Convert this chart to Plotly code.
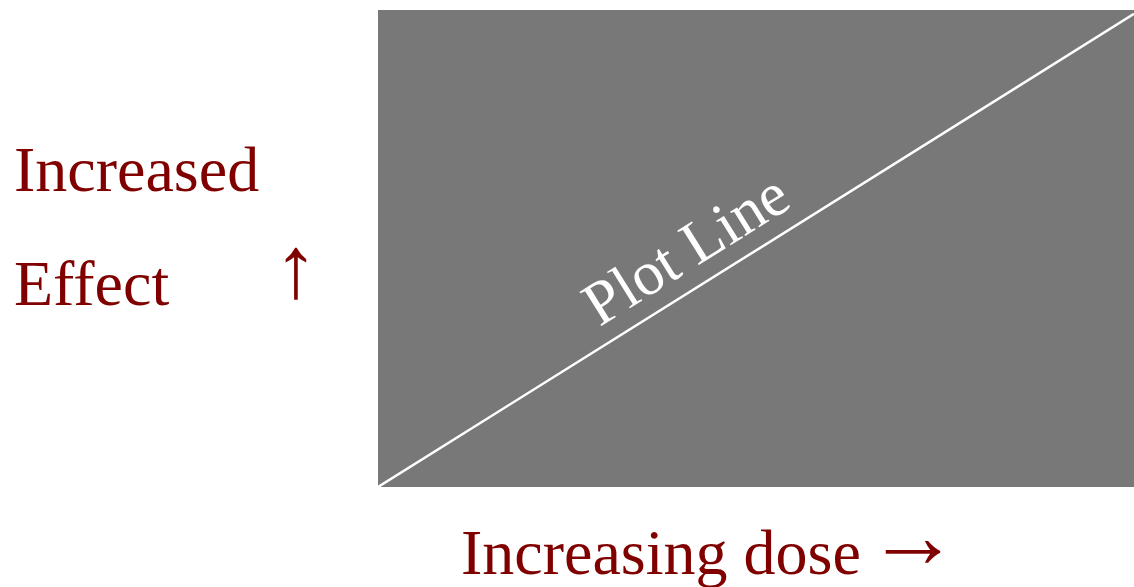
import plotly.graph_objects as go

# Data
dose = [0, 100]
effect = [0, 99.2]
line_label = "Plot Line"
x_label = "Increasing dose"
x_arrow = "\u2192"
y_label_lines = ["Increased", "Effect"]
y_arrow = "\u2191"

RED = "#800000"
FONT = "Liberation Serif"

fig = go.Figure()
fig.add_trace(go.Scatter(x=dose, y=effect, mode="lines",
                         line=dict(color="white", width=2.5),
                         hoverinfo="skip", showlegend=False))

W, H = 1134, 587
L, T = 378, 10
B = H - 487
R = 0
pw, ph = W - L - R, H - T - B

def px(x):
    return (x - L) / pw

def py(y):
    return (H - B - y) / ph

annotations = []
def add(text, x, y, xanchor="left", size=64, family=FONT, color=RED, angle=0):
    annotations.append(dict(text=text, x=px(x), y=py(y), xref="paper", yref="paper",
                            xanchor=xanchor, yanchor="middle", showarrow=False,
                            textangle=angle,
                            font=dict(family=family, size=size, color=color)))

add(y_label_lines[0], 12, 169)
add(y_label_lines[1], 12, 283)
add(y_arrow, 296, 267, xanchor="center", size=88)
add(x_label, 459, 552)
add(x_arrow, 865, 536, size=92)
add(line_label, 685, 249, xanchor="center", size=62, color="white", angle=-32)

fig.update_layout(
    width=W, height=H,
    margin=dict(l=L, r=R, t=T, b=B),
    paper_bgcolor="white",
    plot_bgcolor="#787878",
    xaxis=dict(range=[0, 100], visible=False, showgrid=False, zeroline=False),
    yaxis=dict(range=[0, 100], visible=False, showgrid=False, zeroline=False),
    annotations=annotations,
)

fig.write_html("out.html", config={"displayModeBar": False},
               post_script="document.body.style.margin='0';document.body.style.overflow='hidden';")
